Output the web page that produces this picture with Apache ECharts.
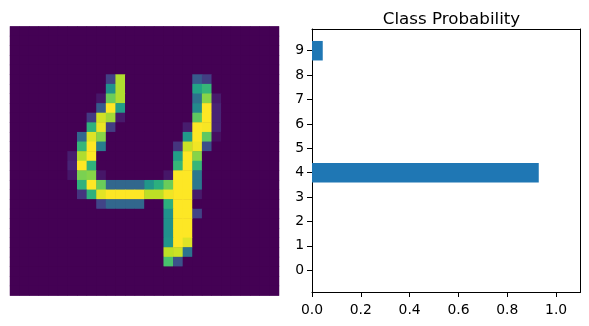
<!DOCTYPE html>
<html>
<head>
<meta charset="utf-8">
<script src="https://cdn.jsdelivr.net/npm/echarts@6/dist/echarts.min.js"></script>
<style>
html,body{margin:0;padding:0;background:#fff;}
#chart{width:589px;height:326px;}
</style>
</head>
<body>
<div id="chart"></div>
<script>
// ---- Data ----
// Image is 28x28; background pixels are 0. Ink pixels as [row, col, intensity]
var imageSize = 28;
var inkPixels = [
  [5,10,0.19],[5,11,0.88],[5,19,0.28],[5,20,0.18],
  [6,10,0.5],[6,11,0.88],[6,19,0.58],[6,20,0.66],
  [7,9,0.06],[7,10,0.77],[7,11,0.88],[7,19,0.37],[7,20,0.82],[7,21,0.07],
  [8,9,0.28],[8,10,1],[8,11,0.55],[8,19,0.47],[8,20,1],[8,21,0.1],
  [9,8,0.17],[9,9,0.93],[9,10,0.86],[9,11,0.07],[9,19,0.75],[9,20,1],[9,21,0.1],
  [10,8,0.64],[10,9,0.97],[10,10,0.18],[10,18,0.08],[10,19,1],[10,20,0.99],[10,21,0.1],
  [11,7,0.33],[11,8,0.95],[11,9,0.82],[11,18,0.53],[11,19,1],[11,20,0.75],[11,21,0.04],
  [12,7,0.66],[12,8,1],[12,9,0.42],[12,17,0.15],[12,18,0.92],[12,19,0.98],[12,20,0.24],
  [13,6,0.08],[13,7,0.88],[13,8,1],[13,17,0.55],[13,18,1],[13,19,0.82],
  [14,6,0.1],[14,7,1],[14,8,0.64],[14,17,0.66],[14,18,1],[14,19,0.66],
  [15,6,0.06],[15,7,0.8],[15,8,0.82],[15,9,0.06],[15,16,0.06],[15,17,1],[15,18,1],[15,19,0.4],
  [16,7,0.64],[16,8,1],[16,9,0.77],[16,10,0.33],[16,11,0.33],[16,12,0.33],[16,13,0.33],[16,14,0.52],[16,15,0.63],[16,16,0.77],[16,17,1],[16,18,1],[16,19,0.4],
  [17,7,0.15],[17,8,0.64],[17,9,0.96],[17,10,1],[17,11,1],[17,12,1],[17,13,1],[17,14,0.9],[17,15,0.9],[17,16,0.98],[17,17,1],[17,18,1],[17,19,0.07],
  [18,9,0.2],[18,10,0.33],[18,11,0.33],[18,12,0.33],[18,13,0.33],[18,16,0.63],[18,17,1],[18,18,1],
  [19,16,0.5],[19,17,1],[19,18,1],[19,19,0.2],
  [20,16,0.5],[20,17,1],[20,18,1],
  [21,16,0.5],[21,17,1],[21,18,1],
  [22,16,0.52],[22,17,1],[22,18,0.95],
  [23,16,0.9],[23,17,0.92],[23,18,0.38],
  [24,16,0.71],[24,17,0.25]
];
var backgroundValue = 0;

var classLabels = [0,1,2,3,4,5,6,7,8,9];
var classProbs = [0.0, 0.0, 0.0, 0.0, 0.929, 0.0, 0.0, 0.0, 0.0, 0.044];
var xTickValues = [0, 0.2, 0.4, 0.6, 0.8, 1.0];

var viridis = ['#440154','#482475','#414487','#355f8d','#2a788e','#21918c','#22a884','#44bf70','#7ad151','#bddf26','#fde725'];

// ---- Build heatmap cells ----
var idx = [];
for (var k = 0; k < imageSize; k++) idx.push(k);
var grid = {};
inkPixels.forEach(function (p) { grid[p[0] + '_' + p[1]] = p[2]; });
var heatData = [];
for (var r = 0; r < imageSize; r++) {
  for (var c = 0; c < imageSize; c++) {
    var v = grid[r + '_' + c];
    heatData.push([c, r, v === undefined ? backgroundValue : v]);
  }
}

var font = 'DejaVu Sans';
var frameLine = {show: true, onZero: false, lineStyle: {color: '#000', width: 1}};
var chart = echarts.init(document.getElementById('chart'), null, {renderer: 'canvas'});
chart.setOption({
  animation: false,
  backgroundColor: '#fff',
  title: {
    text: 'Class Probability',
    left: 446.5, top: 6, textAlign: 'center',
    textStyle: {fontFamily: font, fontSize: 16.7, fontWeight: 'normal', color: '#000'}
  },
  grid: [
    {left: 10, top: 26.5, width: 269, height: 269, show: true, backgroundColor: viridis[0], borderWidth: 0},
    {left: 312, top: 29, width: 268.5, height: 263}
  ],
  xAxis: [
    {type: 'category', gridIndex: 0, data: idx, show: false},
    {type: 'value', gridIndex: 1, min: 0, max: 1.1, position: 'bottom',
     axisLine: frameLine,
     axisTick: {show: true, length: 5, lineStyle: {color: '#000', width: 1}, customValues: xTickValues},
     axisLabel: {color: '#000', fontFamily: font, fontSize: 13.9, margin: 11, customValues: xTickValues,
                 formatter: function (v) { return v.toFixed(1); }},
     splitLine: {show: false}},
    {type: 'value', gridIndex: 1, min: 0, max: 1.1, position: 'top',
     axisLine: frameLine, axisTick: {show: false}, axisLabel: {show: false}, splitLine: {show: false}}
  ],
  yAxis: [
    {type: 'category', gridIndex: 0, data: idx, inverse: true, show: false},
    {type: 'value', gridIndex: 1, min: -0.89, max: 9.89, position: 'left',
     axisLine: frameLine,
     axisTick: {show: true, length: 5, lineStyle: {color: '#000', width: 1}, customValues: classLabels},
     axisLabel: {color: '#000', fontFamily: font, fontSize: 13.9, margin: 8, customValues: classLabels,
                 padding: [2, 0, 0, 0],
                 formatter: function (v) { return String(Math.round(v)); }},
     splitLine: {show: false}},
    {type: 'value', gridIndex: 1, min: -0.89, max: 9.89, position: 'right',
     axisLine: frameLine, axisTick: {show: false}, axisLabel: {show: false}, splitLine: {show: false}}
  ],
  visualMap: {
    show: false, min: 0, max: 1, seriesIndex: 0, dimension: 2,
    inRange: {color: viridis}
  },
  series: [
    {
      type: 'heatmap', xAxisIndex: 0, yAxisIndex: 0, data: heatData,
      emphasis: {disabled: true}, progressive: 0, itemStyle: {borderWidth: 0}
    },
    {
      type: 'custom', xAxisIndex: 1, yAxisIndex: 1,
      data: classLabels.map(function (c, i) { return [c, classProbs[i]]; }),
      encode: {x: 1, y: 0},
      renderItem: function (params, api) {
        var y = api.value(0), v = api.value(1);
        var s = api.coord([0, y]);
        var e = api.coord([v, y]);
        var h = api.size([0, 0.8])[1];
        return {type: 'rect', shape: {x: s[0], y: s[1] - h / 2, width: e[0] - s[0], height: h},
                style: {fill: '#1f77b4'}};
      }
    }
  ]
});
</script>
</body>
</html>
